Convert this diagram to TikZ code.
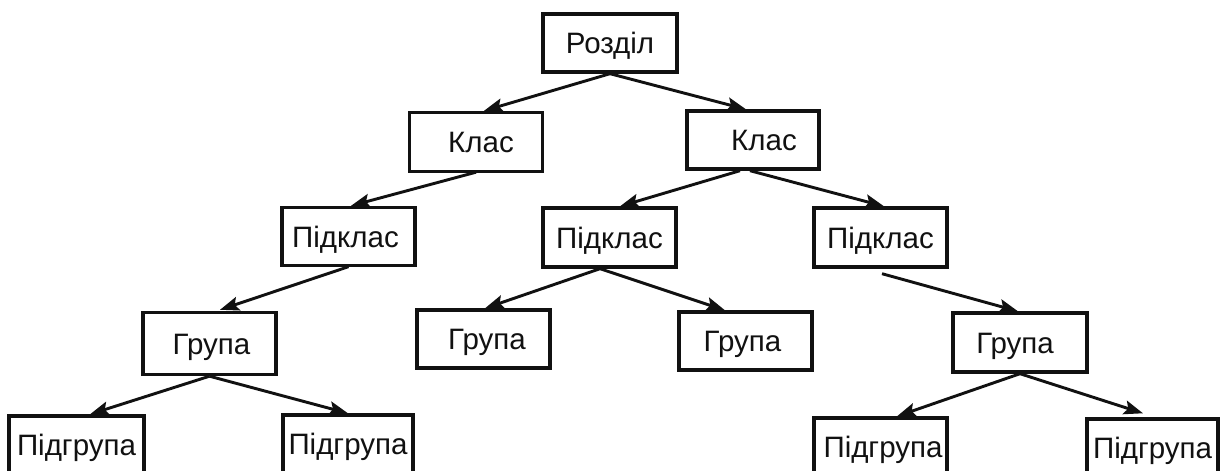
\documentclass[tikz,border=0pt]{standalone}
\usepackage{fontspec}
\setmainfont{Liberation Sans}
\usetikzlibrary{calc,arrows.meta}
\definecolor{ink}{HTML}{111111}
\tikzset{
  box/.style={draw=ink, line width=3.4pt, fill=white, minimum width=133pt, minimum height=59pt,
    inner sep=0pt, text height=21pt, text depth=0pt, font=\fontsize{29.5}{32}\selectfont, text=ink},
  conn/.style={draw=ink, line width=2.9pt, -{Stealth[length=19pt,width=14pt,inset=3.5pt]}}
}
\begin{document}
\begin{tikzpicture}[x=1pt,y=-1pt]
\useasboundingbox (0,0) rectangle (1226,471);
\clip (0,0) rectangle (1226,471);
\fill[white] (0,0) rectangle (1226,471);
% nodes
\node[box, minimum width=134pt, minimum height=58pt] (R) at (610,43) {Розділ};
\node[box] (K1) at (476,142) {\hspace*{10pt}Клас};
\node[box, minimum width=132pt, minimum height=58pt] (K2) at (753,140) {\hspace*{22pt}Клас};
\node[box, minimum height=58pt] (P1) at (348.5,236.5) {Підклас\hspace*{6pt}};
\node[box] (P2) at (609.5,237.5) {Підклас};
\node[box] (P3) at (880.5,237.5) {Підклас};
\node[box, minimum height=62pt] (G1) at (209.5,343.5) {\hspace*{4pt}Група};
\node[box, minimum height=58pt] (G2) at (483.5,339) {\hspace*{7pt}Група};
\node[box, minimum height=58pt] (G3) at (745.5,341) {Група\hspace*{6pt}};
\node[box, minimum width=134pt] (G4) at (1020,342.5) {Група\hspace*{10pt}};
\node[box, minimum width=135pt, minimum height=58pt] (S1) at (76.5,445) {Підгрупа};
\node[box, minimum width=130pt, minimum height=58pt] (S2) at (348,444) {Підгрупа};
\node[box, minimum height=58pt] (S3) at (880.5,447) {\hspace*{5pt}Підгрупа};
\node[box, minimum width=131pt, minimum height=58pt] (S4) at (1152.5,448) {Підгрупа};
% connectors
\draw[conn] (R.south) -- ($(K1.north)+(8,0)$);
\draw[conn] (R.south) -- ($(K2.north)+(-7,0)$);
\draw[conn] ($(K1.south)+(0,-1)$) -- ($(P1.north)+(2.5,0)$);
\draw[conn] ($(K2.south)+(-13,0)$) -- ($(P2.north)+(10.5,0)$);
\draw[conn] ($(K2.south)+(-3,0)$) -- ($(P3.north)+(3.5,0)$);
\draw[conn] ($(P1.south)+(0,-0.5)$) -- ($(G1.north)+(10.5,-1)$);
\draw[conn] ($(P2.south)+(-9.5,0)$) -- ($(G2.north)+(1.5,0)$);
\draw[conn] ($(P2.south)+(-9.5,0)$) -- ($(G3.north)+(-20.5,0)$);
\draw[conn] ($(P3.south)+(1.5,5)$) -- ($(G4.north)+(-2,0)$);
\draw[conn] (G1.south) -- ($(S1.north)+(13.5,0)$);
\draw[conn] (G1.south) -- (S2.north);
\draw[conn] (G4.south) -- ($(S3.north)+(16.5,0)$);
\draw[conn] (G4.south) -- ($(S4.north)+(-9.5,-4)$);
\end{tikzpicture}
\end{document}
